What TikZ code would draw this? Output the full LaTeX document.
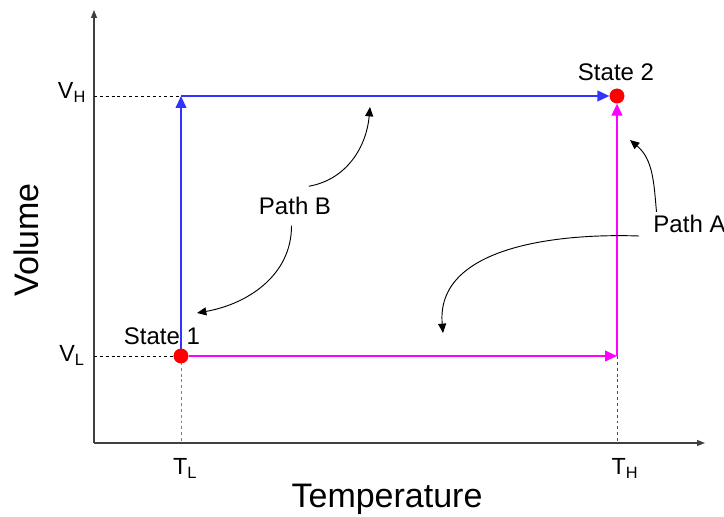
\documentclass[tikz,border=0pt]{standalone}
\usepackage{fontspec}
\setmainfont{Liberation Sans}
\usetikzlibrary{arrows.meta}
\definecolor{pathblue}{RGB}{51,51,255}
\definecolor{pathmagenta}{RGB}{255,0,255}
\tikzset{
  axis/.style={draw=black!75, line width=1pt, -{Triangle[length=6pt, width=4.5pt]}},
  guide/.style={dash pattern=on 2.2pt off 2.2pt, line width=0.7pt},
  statedot/.style={circle, fill=red, inner sep=0pt, minimum size=11pt},
  bluepath/.style={draw=pathblue, line width=1.4pt, -{Triangle[length=9pt, width=8pt]}},
  magentapath/.style={draw=pathmagenta, line width=1.4pt, -{Triangle[length=9pt, width=8pt]}},
  pointer/.style={-{Triangle[length=7pt, width=6pt]}, line width=0.7pt},
  ticklabel/.style={font=\fontsize{17.5}{20}\selectfont, inner sep=0pt, anchor=base},
  statelabel/.style={font=\fontsize{18}{21}\selectfont, inner sep=0pt, anchor=base},
  axislabel/.style={font=\fontsize{25.5}{30}\selectfont, inner sep=0pt, anchor=base}
}
\begin{document}
\begin{tikzpicture}[x=0.75pt, y=0.75pt]
  \useasboundingbox (0,0) rectangle (724,517);
  \coordinate (origin) at (94,74);
  \coordinate (ytop) at (94,507);
  \coordinate (xend) at (705,74);
  \coordinate (cornerB) at (181,421);
  \coordinate (cornerA) at (617,161);
  \node[statedot] (state1) at (181,161) {};
  \node[statedot] (state2) at (617,421) {};

  \node[ticklabel] (vh) at (72,418) {V\textsubscript{H}};
  \node[ticklabel] (vl) at (72,155) {V\textsubscript{L}};
  \node[ticklabel] (tl) at (185,42) {T\textsubscript{L}};
  \node[ticklabel] (th) at (625,42) {T\textsubscript{H}};
  \node[axislabel] (temp) at (387,9) {Temperature};
  \node[axislabel, rotate=90] (vol) at (38,277) {Volume};
  \node[statelabel] (lab1) at (162,172) {State 1};
  \node[statelabel] (lab2) at (616,436) {State 2};
  \node[statelabel, anchor=center, inner xsep=2pt, inner ysep=8pt] (pathB) at (295,311) {Path B};
  \node[statelabel, anchor=center, inner xsep=10.5pt, inner ysep=2.2pt] (pathA) at (689.5,293) {Path A};

  \coordinate (pbtop) at (370,410);
  \coordinate (pbleft) at (197,204);
  \coordinate (patop) at (630,377);
  \coordinate (paleft) at (443,184);

  \draw[axis] (origin) -- (ytop);
  \draw[axis] (origin) -- (xend);
  \draw[guide] (origin |- cornerB) -- (cornerB);
  \draw[guide] (origin |- state1) -- (state1.center);
  \draw[guide, gray] (state1.center) -- (state1 |- origin);
  \draw[guide, black!70] (cornerA) -- (cornerA |- origin);

  \draw[bluepath] (state1.center) -- (cornerB);
  \draw[bluepath] (cornerB) -- (state2);
  \draw[magentapath] (state1) -- (cornerA);
  \draw[magentapath] (cornerA) -- (state2);
  \node[statedot] at (state1) {};
  \node[statedot] at (state2) {};

  \draw[pointer] (pathB.55) to[out=10, in=-95] (pbtop);
  \draw[pointer] (pathB.-100) to[out=-90, in=10] (pbleft);
  \draw[pointer] (pathA.160) to[out=95, in=-40] (patop);
  \draw[pointer] (pathA.south west) to[out=178, in=95] (paleft);
\end{tikzpicture}
\end{document}
